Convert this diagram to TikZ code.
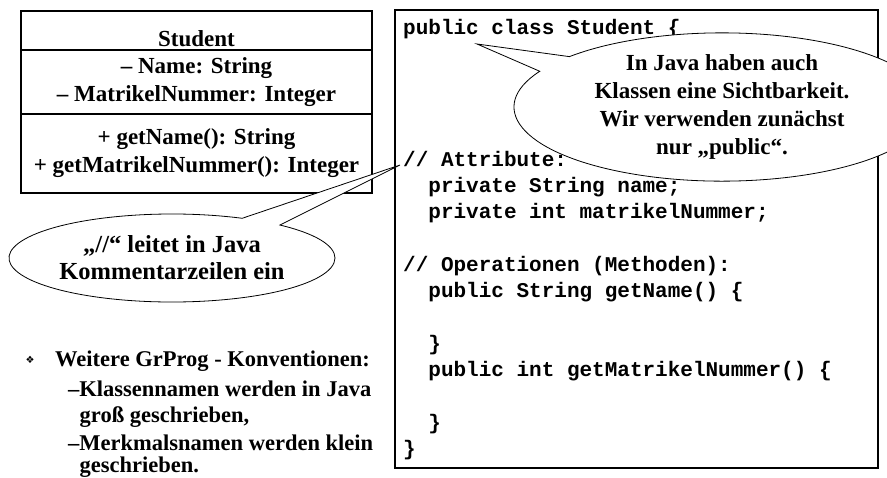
\documentclass[tikz,border=0pt]{standalone}
\usepackage{fontspec}
\setmonofont{Liberation Mono}
\newfontfamily\timesfont{Liberation Serif}
\newfontfamily\symbfont{DejaVu Sans}
\usetikzlibrary{positioning,shapes.callouts}

\tikzset{
  umlpart/.style={draw, line width=1.4pt, outer sep=0pt, inner sep=0pt,
                  minimum width=351pt, align=center,
                  font=\fontsize{23}{28}\selectfont\timesfont\bfseries},
  codeframe/.style={draw, line width=1.2pt, outer sep=0pt, inner sep=0pt},
  codeline/.style={anchor=base west, inner sep=0pt,
                   font=\fontsize{21}{26}\selectfont\ttfamily\bfseries},
  bubble/.style={ellipse callout, draw, fill=white, line width=0.8pt,
                 inner sep=0pt, align=center,
                 font=\fontsize{23}{28}\selectfont\timesfont\bfseries},
  convline/.style={anchor=base west, inner sep=0pt,
                   font=\fontsize{22.5}{26}\selectfont\timesfont\bfseries}
}

\begin{document}
\begin{tikzpicture}[x=1pt,y=-1pt]
\clip (0,0) rectangle (887,477);

% UML class
\node[umlpart, minimum height=39pt, text height=31pt, text depth=0pt]
  (clsname) at (196.5,30.5) {Student};
\node[umlpart, minimum height=64pt, below=0pt of clsname] (clsattr)
  {– Name: String\\ – MatrikelNummer: Integer};
\node[umlpart, minimum height=79pt, below=0pt of clsattr] (clsops)
  {+ getName(): String\\ + getMatrikelNummer(): Integer};

% Java source
\node[codeframe, minimum width=483pt, minimum height=458pt]
  (javacode) at (636.5,239) {};
\node[codeline] (cl0)  at (403,34.5)  {public class Student \{};
\node[codeline] (cl5)  at (403,166)   {// Attribute:};
\node[codeline] (cl6)  at (428.2,192.3) {private String name;};
\node[codeline] (cl7)  at (428.2,218.6) {private int matrikelNummer;};
\node[codeline] (cl9)  at (403,271.2) {// Operationen (Methoden):};
\node[codeline] (cl10) at (428.2,297.5) {public String getName() \{};
\node[codeline] (cl12) at (428.2,350.1) {\}};
\node[codeline] (cl13) at (428.2,376.4) {public int getMatrikelNummer() \{};
\node[codeline] (cl15) at (428.2,429)   {\}};
\node[codeline] (cl16) at (403,455.3) {\}};

% callouts
\coordinate (tipvis) at (477,44);
\coordinate (tipcomment) at (400,165);
\node[bubble, minimum width=416pt, minimum height=104pt,
      callout absolute pointer={(tipvis)}, callout pointer arc=14]
  (bubblevis) at (722,107)
  {In Java haben auch\\ Klassen eine Sichtbarkeit.\\
   Wir verwenden zunächst\\ nur „public“.};
\node[bubble, minimum width=326pt, minimum height=88pt,
      callout absolute pointer={(tipcomment)}, callout pointer arc=16,
      font=\fontsize{24.5}{27}\selectfont\timesfont\bfseries]
  (bubblecomment) at (172,258)
  {„//“ leitet in Java\\ Kommentarzeilen ein};

% conventions
\node[inner sep=0pt, font=\fontsize{10}{10}\selectfont\symbfont]
  (bullet) at (30,360) {❖};
\node[convline] (convhead) at (55,366) {Weitere GrProg - Konventionen:};
\node[convline] (convklasse) at (68,396) {–Klassennamen werden in Java};
\node[convline] (convklasse2) at (79.5,422) {groß geschrieben,};
\node[convline] (convmerkmal) at (68,450) {–Merkmalsnamen werden klein};
\node[convline] (convmerkmal2) at (79.5,472) {geschrieben.};
\end{tikzpicture}
\end{document}
